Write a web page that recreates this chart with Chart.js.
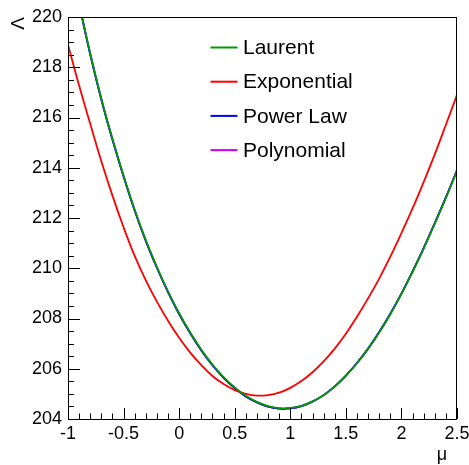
<!DOCTYPE html>
<html>
<head>
<meta charset="utf-8">
<title>Lambda vs mu</title>
<script src="https://cdn.jsdelivr.net/npm/chart.js@4.4.1/dist/chart.umd.min.js"></script>
<style>
  html, body { margin: 0; padding: 0; background: #fff; }
  #wrap { width: 469px; height: 465px; }
</style>
</head>
<body>
<div id="wrap"><canvas id="chart" width="469" height="465"></canvas></div>
<script>
// values
const muValues = [-1.0, -0.9, -0.8, -0.7, -0.6, -0.5, -0.4, -0.3, -0.2, -0.1,
  0.0, 0.1, 0.2, 0.3, 0.4, 0.5, 0.6, 0.7, 0.8, 0.9,
  1.0, 1.1, 1.2, 1.3, 1.4, 1.5, 1.6, 1.7, 1.8, 1.9,
  2.0, 2.1, 2.2, 2.3, 2.4, 2.5];

const laurent = [222.7, 220.55, 218.55, 216.75, 215.15, 213.68, 212.33, 211.12, 210.05, 209.08,
  208.21, 207.44, 206.76, 206.17, 205.67, 205.26, 204.93, 204.68, 204.51, 204.43,
  204.44, 204.52, 204.70, 204.95, 205.29, 205.72, 206.22, 206.79, 207.44, 208.17,
  208.97, 209.85, 210.78, 211.78, 212.80, 213.88];

const exponential = [218.9, 217.27, 215.75, 214.26, 212.89, 211.63, 210.49, 209.52, 208.67, 207.91,
  207.23, 206.64, 206.14, 205.71, 205.39, 205.15, 205.00, 204.93, 204.95, 205.05,
  205.24, 205.51, 205.86, 206.29, 206.80, 207.39, 208.07, 208.80, 209.59, 210.46,
  211.40, 212.38, 213.43, 214.53, 215.71, 216.90];

const powerLaw = [222.67, 220.52, 218.52, 216.72, 215.12, 213.65, 212.30, 211.09, 210.02, 209.05,
  208.18, 207.41, 206.73, 206.14, 205.64, 205.23, 204.90, 204.66, 204.49, 204.41,
  204.42, 204.51, 204.69, 204.95, 205.30, 205.73, 206.23, 206.80, 207.46, 208.19,
  208.99, 209.87, 210.80, 211.80, 212.82, 213.90];

const polynomial = [222.67, 220.52, 218.52, 216.72, 215.12, 213.65, 212.30, 211.09, 210.02, 209.05,
  208.18, 207.41, 206.73, 206.14, 205.64, 205.23, 204.90, 204.66, 204.49, 204.41,
  204.42, 204.51, 204.69, 204.95, 205.30, 205.73, 206.23, 206.80, 207.46, 208.19,
  208.99, 209.87, 210.80, 211.80, 212.82, 213.90];

const seriesNames = ['Laurent', 'Exponential', 'Power Law', 'Polynomial'];
const seriesColors = ['#009a00', '#ff0000', '#0000ff', '#cc00ff'];

const xTickValues = [-1, -0.5, 0, 0.5, 1, 1.5, 2, 2.5];
const xTickLabels = ['-1', '-0.5', '0', '0.5', '1', '1.5', '2', '2.5'];
const yTickValues = [204, 206, 208, 210, 212, 214, 216, 218, 220];
const yTickLabels = ['204', '206', '208', '210', '212', '214', '216', '218', '220'];

const FONT = '"Liberation Sans", Arial, Helvetica, sans-serif';

function toPoints(ys) {
  return muValues.map((x, i) => ({ x: x, y: ys[i] }));
}

// frame, inner ticks, axis titles and the legend, ROOT style
const rootFrame = {
  id: 'rootFrame',
  afterDraw(chart) {
    const ctx = chart.ctx;
    const a = chart.chartArea;
    const xs = chart.scales.x;
    const ys = chart.scales.y;
    ctx.save();
    ctx.strokeStyle = '#000';
    ctx.lineWidth = 1;
    ctx.strokeRect(a.left + 0.5, a.top + 0.5, a.right - a.left - 1, a.bottom - a.top);

    ctx.beginPath();
    // y axis: major every 2, minor every 0.5
    for (let i = 0; i <= 32; i++) {
      const py = Math.round(ys.getPixelForValue(204 + i * 0.5)) + 0.5;
      const len = (i % 4 === 0) ? 12 : 6;
      ctx.moveTo(a.left, py);
      ctx.lineTo(a.left + len, py);
    }
    // x axis: major every 0.5, minor every 0.1
    for (let i = 0; i <= 35; i++) {
      const px = Math.round(xs.getPixelForValue(-1 + i * 0.1)) + 0.5;
      const len = (i % 5 === 0) ? 11 : 5.5;
      ctx.moveTo(px, a.bottom);
      ctx.lineTo(px, a.bottom - len);
    }
    ctx.stroke();

    // axis titles
    ctx.fillStyle = '#000';
    ctx.font = '19px ' + FONT;
    ctx.save();
    ctx.translate(24, a.top);
    ctx.rotate(-Math.PI / 2);
    ctx.textAlign = 'right';
    ctx.textBaseline = 'alphabetic';
    ctx.fillText('Λ', 0, 0);
    ctx.restore();

    ctx.font = '18px ' + FONT;
    ctx.textAlign = 'center';
    ctx.textBaseline = 'alphabetic';
    ctx.fillText('μ', 442, 459.5);

    // legend
    ctx.font = '21px ' + FONT;
    ctx.textAlign = 'left';
    ctx.textBaseline = 'middle';
    chart.data.datasets.forEach((ds, i) => {
      const ly = 47.5 + i * 34.2;
      ctx.strokeStyle = ds.borderColor;
      ctx.lineWidth = 2;
      ctx.beginPath();
      ctx.moveTo(210.5, ly);
      ctx.lineTo(237.5, ly);
      ctx.stroke();
      ctx.fillStyle = '#000';
      ctx.fillText(ds.label, 243, ly + 1);
    });
    ctx.restore();
  }
};

const allSeries = [laurent, exponential, powerLaw, polynomial];

new Chart(document.getElementById('chart'), {
  type: 'line',
  data: {
    datasets: allSeries.map((ys, i) => ({
      label: seriesNames[i],
      data: toPoints(ys),
      borderColor: seriesColors[i],
      backgroundColor: seriesColors[i],
      borderWidth: 1.8,
      pointRadius: 0,
      fill: false,
      tension: 0.4
    }))
  },
  options: {
    responsive: false,
    animation: false,
    events: [],
    layout: { padding: { top: 17, right: 12, left: 0, bottom: 0 } },
    plugins: {
      legend: { display: false },
      tooltip: { enabled: false }
    },
    scales: {
      x: {
        type: 'linear',
        min: -1,
        max: 2.5,
        afterBuildTicks: s => { s.ticks = xTickValues.map(v => ({ value: v })); },
        afterFit: s => { s.height = 46; s.paddingLeft = 0; s.paddingRight = 0; },
        grid: { display: false, drawTicks: false },
        border: { display: false },
        ticks: {
          color: '#000',
          font: { family: FONT, size: 18 },
          padding: 4,
          maxRotation: 0,
          autoSkip: false,
          callback: (v, i) => xTickLabels[i]
        }
      },
      y: {
        type: 'linear',
        min: 204,
        max: 220,
        afterBuildTicks: s => { s.ticks = yTickValues.map(v => ({ value: v })); },
        afterFit: s => { s.width = 68; s.paddingTop = 0; s.paddingBottom = 0; },
        grid: { display: false, drawTicks: false },
        border: { display: false },
        ticks: {
          color: '#000',
          font: { family: FONT, size: 18 },
          padding: 6,
          autoSkip: false,
          callback: (v, i) => yTickLabels[i]
        }
      }
    }
  },
  plugins: [rootFrame]
});
</script>
</body>
</html>
